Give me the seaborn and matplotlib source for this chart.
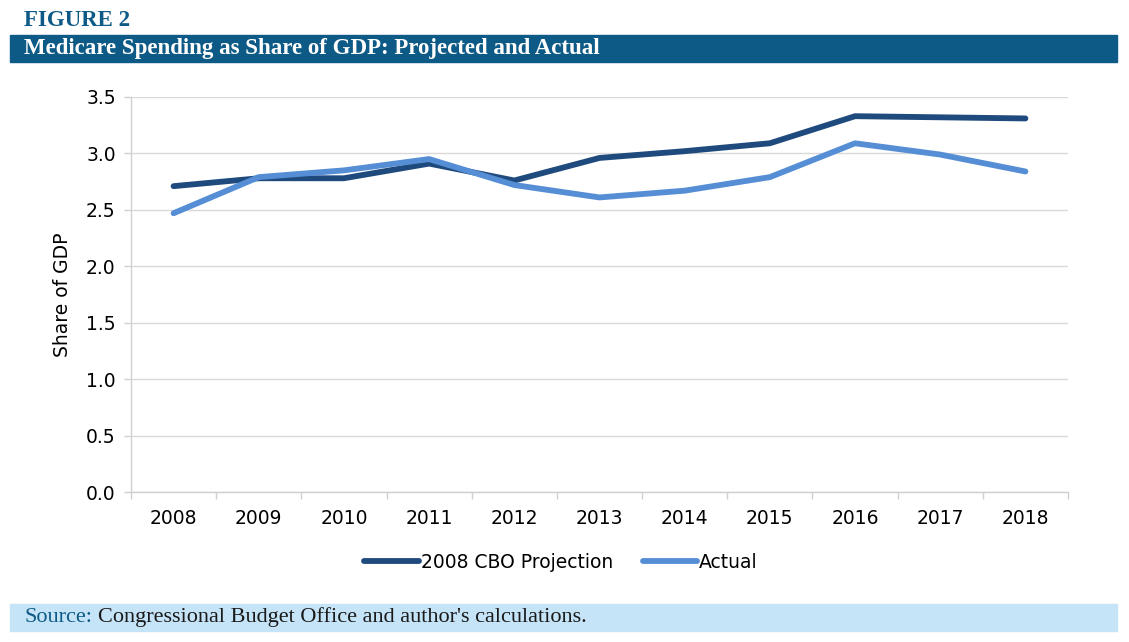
import pandas as pd
import numpy as np
import matplotlib.pyplot as plt
import seaborn as sns
from matplotlib.patches import Rectangle
from matplotlib.lines import Line2D

years = ['2008', '2009', '2010', '2011', '2012', '2013', '2014', '2015', '2016', '2017', '2018']
cbo_projection = [2.71, 2.78, 2.78, 2.91, 2.76, 2.96, 3.02, 3.09, 3.33, 3.32, 3.31]
actual = [2.47, 2.79, 2.85, 2.95, 2.72, 2.61, 2.67, 2.79, 3.09, 2.99, 2.84]
series_names = ['2008 CBO Projection', 'Actual']

data = pd.DataFrame({
    'Year': years * 2,
    'Share': cbo_projection + actual,
    'Series': [series_names[0]] * len(years) + [series_names[1]] * len(years),
})
data['pos'] = data['Year'].map({y: i for i, y in enumerate(years)})

sns.set_theme(style='white')
plt.rcParams['font.family'] = ['DejaVu Sans']
plt.rcParams['text.color'] = 'black'
plt.rcParams['axes.labelcolor'] = 'black'
plt.rcParams['xtick.labelcolor'] = 'black'
plt.rcParams['ytick.labelcolor'] = 'black'

W, H = 1129, 642
fig = plt.figure(figsize=(W / 100, H / 100), dpi=100)
ax = fig.add_axes([131 / W, 1 - 492 / H, (1068 - 131) / W, (492 - 97) / H])

palette = {series_names[0]: '#1f4a7d', series_names[1]: '#558ed5'}
sns.lineplot(data=data, x='pos', y='Share', hue='Series', palette=palette,
             linewidth=4.2, ax=ax, legend=False, solid_capstyle='round')

ax.set_xlim(-0.5, len(years) - 0.5)
ax.set_ylim(0, 3.5)
yt = np.arange(0, 3.51, 0.5)
ax.set_yticks(yt)
ax.set_yticklabels([f'{v:.1f}' for v in yt], fontsize=13.5)
ax.set_xticks(range(len(years)))
ax.set_xticklabels(years, fontsize=13.5)
ax.set_xticks(np.arange(-0.5, len(years)), minor=True)
ax.tick_params(axis='x', which='major', length=0, pad=12)
ax.tick_params(axis='x', which='minor', length=5, color='#d0d0d0', width=1, direction='out')
ax.tick_params(axis='y', length=5, color='#d0d0d0', width=1, pad=6, direction='out')
ax.yaxis.set_ticks_position('left')
ax.xaxis.set_ticks_position('bottom')
ax.grid(axis='y', color='#d9d9d9', linewidth=1)
ax.set_axisbelow(True)
for s in ['top', 'right']:
    ax.spines[s].set_visible(False)
for s in ['left', 'bottom']:
    ax.spines[s].set_color('#d0d0d0')
    ax.spines[s].set_linewidth(1)
ax.set_xlabel('')
ax.set_ylabel('Share of GDP', fontsize=13.5, labelpad=10)

# legend below the plot
handles = [Line2D([0], [0], color=palette[n], lw=4.2, solid_capstyle='round') for n in series_names]
fig.legend(handles, series_names, loc='center', bbox_to_anchor=(561 / W, 1 - 562 / H),
           ncol=2, frameon=False, fontsize=13.5, handlelength=2.9, handletextpad=0.1,
           columnspacing=1.6)

# header
fig.text(24 / W, 1 - 21 / H, 'FIGURE 2', fontsize=16.5, fontweight='bold',
         color='#0e5a86', family='Liberation Serif', va='center', ha='left')
fig.patches.append(Rectangle((10 / W, 1 - 62 / H), (1117 - 10) / W, 27 / H,
                             transform=fig.transFigure, color='#0e5a86', zorder=0))
fig.text(24 / W, 1 - 48.5 / H, 'Medicare Spending as Share of GDP: Projected and Actual',
         fontsize=16.5, fontweight='bold', color='white', family='Liberation Serif',
         va='center', ha='left')

# source band
fig.patches.append(Rectangle((10 / W, 1 - 631 / H), (1117 - 10) / W, 27 / H,
                             transform=fig.transFigure, color='#c6e4f7', zorder=0))
fig.text(24 / W, 1 - 617.5 / H, 'Source:', fontsize=16, color='#0e5a86',
         family='Liberation Serif', va='center', ha='left')
fig.text(98 / W, 1 - 617.5 / H, "Congressional Budget Office and author's calculations.",
         fontsize=16, color='#1a1a1a', family='Liberation Serif', va='center', ha='left')

fig.savefig('out.png', dpi=100)
